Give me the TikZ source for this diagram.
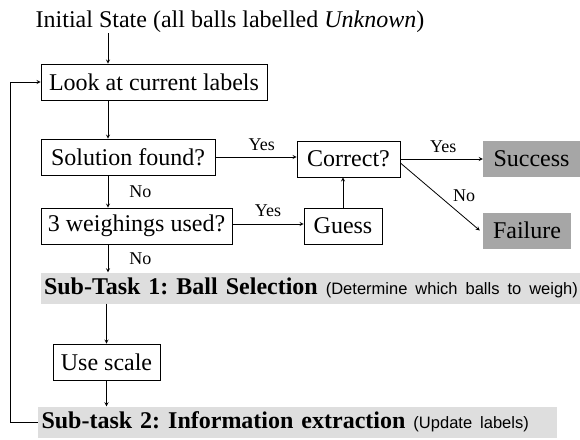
\documentclass[tikz,border=0pt]{standalone}
\usepackage{fontspec}
\setmainfont{Liberation Serif}
\newfontfamily\notefont[WordSpace=0.85]{Liberation Sans}
\usepackage{tikz}
\usetikzlibrary{arrows}
\frenchspacing
\tikzstyle{arrow} = [line width=0.8pt, ->, >=stealth]
\tikzstyle{box} = [draw, line width=0.8pt, minimum height=36pt, inner sep=0pt]
\tikzstyle{result} = [fill=black!35, minimum height=36pt, inner sep=0pt]
\tikzstyle{band} = [fill=black!13, minimum height=31pt, inner sep=0pt, text width=#1, align=left]
\tikzstyle{tag} = [font=\fontsize{18}{21}\selectfont, inner sep=0pt]
\newcommand{\note}[1]{{\notefont\fontsize{16.5}{19}\selectfont #1}}

\begin{document}
\begin{tikzpicture}[x=1pt,y=-1pt]
        \useasboundingbox (0,0) rectangle (580,439);
        \tikzstyle{every node}+=[font=\fontsize{24}{28}\selectfont]
        \node [inner sep=0pt] (init) at (230,22) {Initial State (all balls labelled \textit{Unknown})};
        \node [box, minimum width=226pt] (look) at (154,82) {Look at current labels};
        \node [box, minimum width=174pt] (sol) at (128,157) {Solution found?};
        \node [box, minimum width=103pt] (correct) at (348.5,159) {Correct?};
        \node [result, minimum width=97pt] (success) at (531.5,159) {Success};
        \node [box, minimum width=191pt] (weigh) at (136.5,226) {3 weighings used?};
        \node [box, minimum width=78pt] (guess) at (343,226) {Guess};
        \node [result, minimum width=88pt] (failure) at (527,230.5) {Failure};
        \node [band=533pt, minimum width=539pt] (select) at (310.5,288) {\mbox{\textbf{Sub-Task 1: Ball Selection} \note{(Determine which balls to weigh)}}};
        \node [box, minimum width=107pt] (scale) at (106.5,362) {Use scale};
        \node [band=512pt, minimum width=519pt] (extract) at (297.5,422) {\mbox{\textbf{Sub-task 2: Information extraction} \note{(Update labels)}}};
        \coordinate (spine) at (108,0);
        \coordinate (loopx) at (10,0);
        % main column
        \draw [arrow] (init.south -| spine) -- (look.north -| spine);
        \draw [arrow] (look.south -| spine) -- (sol.north -| spine);
        \draw [arrow] (sol.south -| spine) -- (weigh.north -| spine) node [tag, midway, right=21pt] {No};
        \draw [arrow] (weigh.south -| spine) -- (select.north -| spine) node [tag, midway, right=21pt] {No};
        \draw [arrow] (select.south -| scale) -- (scale.north);
        \draw [arrow] (scale.south) -- (scale.south |- extract.north);
        % right side
        \draw [arrow] (sol.east) -- (sol.east -| correct.west) node [tag, pos=0.57, above=6pt] {Yes};
        \draw [arrow] (correct.east) -- (success.west) node [tag, pos=0.52, above=6pt] {Yes};
        \draw [arrow] ([yshift=-4pt]correct.east) -- ([xshift=-3pt]failure.west) node [tag, pos=0.62, above right=3pt] {No};
        \draw [arrow] ([yshift=2pt]weigh.east) -- ([yshift=2pt]weigh.east -| guess.west) node [tag, midway, above=7pt] {Yes};
        \draw [arrow] (guess.north) -- (guess.north |- correct.south);
        % loop back
        \draw [arrow] (extract.west) -- (extract.west -| loopx) -- (look.west -| loopx) -- (look.west);
\end{tikzpicture}
\end{document}
